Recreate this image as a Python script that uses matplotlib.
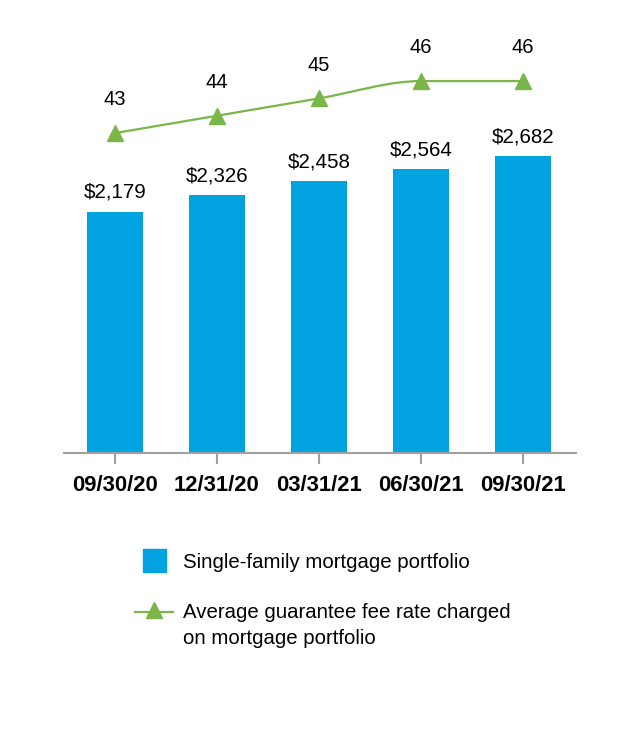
import numpy as np
import matplotlib.pyplot as plt
from matplotlib.path import Path
from matplotlib.patches import PathPatch, Rectangle
from matplotlib.lines import Line2D

dates = ['09/30/20', '12/31/20', '03/31/21', '06/30/21', '09/30/21']
portfolio = [2179, 2326, 2458, 2564, 2682]
fee_rate = [43, 44, 45, 46, 46]

BLUE = '#00A3E0'
GREEN = '#7AB648'
GREY = '#A0A0A0'

plt.rcParams['font.family'] = ['Liberation Sans', 'DejaVu Sans']


def monotone_path(x, y):
    # Fritsch-Carlson tangents -> cubic bezier segments
    x = np.asarray(x, float)
    y = np.asarray(y, float)
    h = np.diff(x)
    d = np.diff(y) / h
    m = np.zeros_like(y)
    m[0], m[-1] = d[0], d[-1]
    for i in range(1, len(y) - 1):
        if d[i - 1] * d[i] <= 0:
            m[i] = 0
        else:
            m[i] = 2 / (1 / d[i - 1] + 1 / d[i])
    verts = [(x[0], y[0])]
    codes = [Path.MOVETO]
    for i in range(len(x) - 1):
        verts += [(x[i] + h[i] / 3, y[i] + m[i] * h[i] / 3),
                  (x[i + 1] - h[i] / 3, y[i + 1] - m[i + 1] * h[i] / 3),
                  (x[i + 1], y[i + 1])]
        codes += [Path.CURVE4] * 3
    return Path(verts, codes)


fig = plt.figure(figsize=(6.4, 7.4), dpi=100)
ax = fig.add_axes([64 / 640, 287 / 740, 512 / 640, 413 / 740])

x = np.arange(len(dates))
ax.bar(x, portfolio, width=0.55, color=BLUE, zorder=2)
for xi, v in zip(x, portfolio):
    ax.annotate('${:,}'.format(v), (xi, v), xytext=(0, 7), textcoords='offset points',
                ha='center', va='bottom', fontsize=14.8)

ax.set_xlim(-0.5, 4.52)
ax.set_ylim(0, 413 * 9.03)
ax.set_xticks(x)
ax.set_xticklabels(dates, fontsize=15.8, fontweight='bold')
ax.tick_params(axis='x', length=8, width=1.5, color=GREY, pad=8)
ax.set_yticks([])
for s in ['top', 'right', 'left']:
    ax.spines[s].set_visible(False)
ax.spines['bottom'].set_color(GREY)
ax.spines['bottom'].set_linewidth(1.5)

ax2 = ax.twinx()
ax2.set_ylim(24.54, 48.37)
ax2.set_yticks([])
for s in ax2.spines.values():
    s.set_visible(False)
ax2.add_patch(PathPatch(monotone_path(x, fee_rate), facecolor='none',
                        edgecolor=GREEN, lw=1.6, zorder=3))
ax2.plot(x, fee_rate, ls='none', marker='^', ms=12, color=GREEN, zorder=4)
for xi, v in zip(x, fee_rate):
    ax2.annotate(str(v), (xi, v), xytext=(0, 17), textcoords='offset points',
                 ha='center', va='bottom', fontsize=14.5)

# legend
fig.add_artist(Rectangle((143 / 640, 1 - 572 / 740), 23 / 640, 23 / 740,
                         transform=fig.transFigure, color=BLUE))
fig.text(183 / 640, 1 - 563 / 740, 'Single-family mortgage portfolio',
         fontsize=14.7, va='center', ha='left')
fig.add_artist(Line2D([135 / 640, 173 / 640], [1 - 612 / 740] * 2,
                      transform=fig.transFigure, color=GREEN, lw=1.6))
fig.add_artist(Line2D([154 / 640], [1 - 610 / 740], transform=fig.transFigure,
                      marker='^', ms=12, color=GREEN))
fig.text(183 / 640, 1 - 612 / 740, 'Average guarantee fee rate charged',
         fontsize=14.7, va='center', ha='left')
fig.text(183 / 640, 1 - 639 / 740, 'on mortgage portfolio',
         fontsize=14.7, va='center', ha='left')

fig.savefig('out.png', dpi=100)
